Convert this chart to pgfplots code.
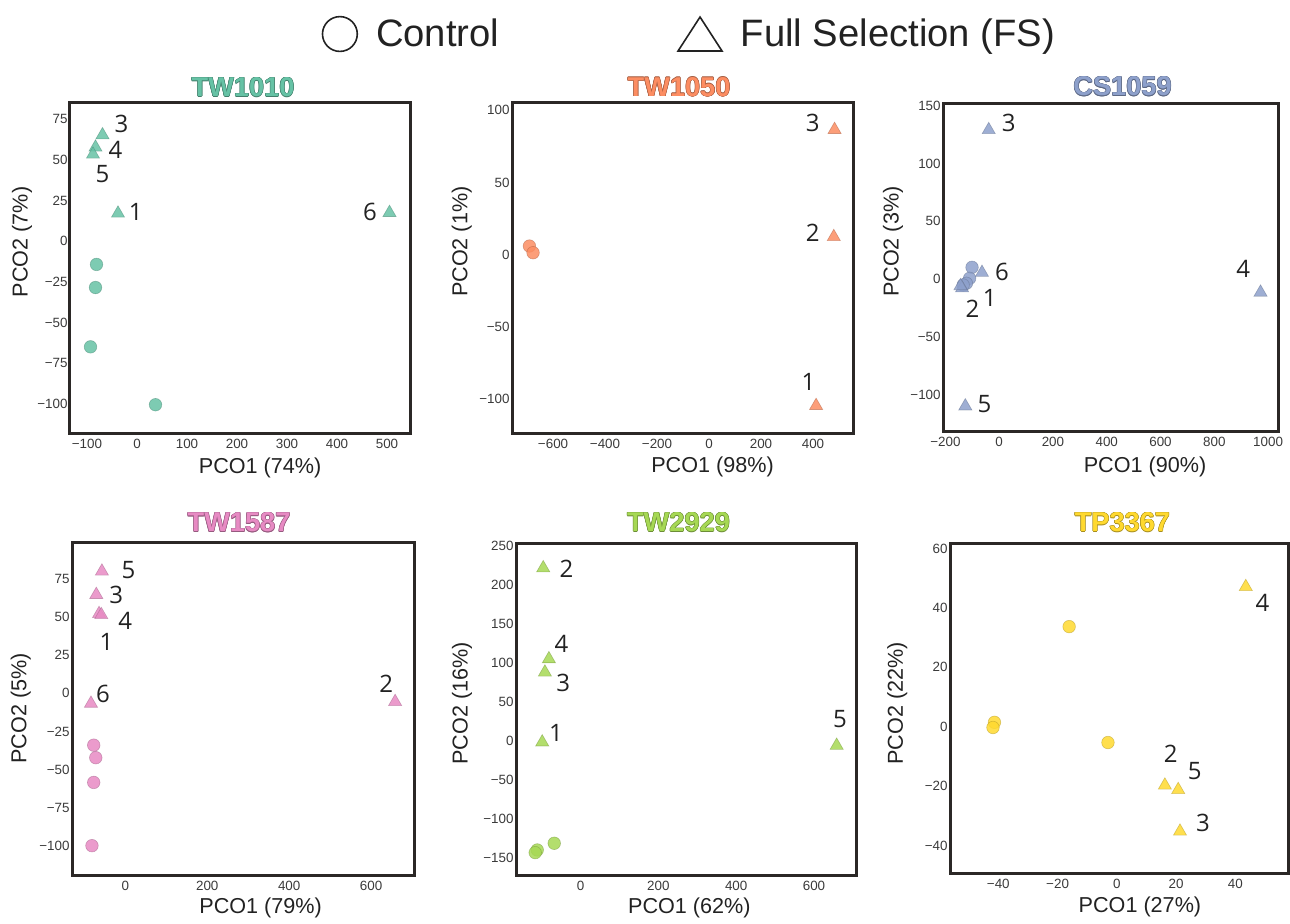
\documentclass[border=0pt]{standalone}
\usepackage{fontspec}
\setmainfont{Liberation Sans}
\newfontfamily\numfont{Open Sans}
\usepackage{pgfplots}
\pgfplotsset{compat=1.18}

\definecolor{cA}{HTML}{66C2A5}
\definecolor{cB}{HTML}{FC8D62}
\definecolor{cC}{HTML}{8DA0CB}
\definecolor{cD}{HTML}{E78AC3}
\definecolor{cE}{HTML}{A6D854}
\definecolor{cF}{HTML}{FFD92F}
\definecolor{frame}{HTML}{2B2826}
\definecolor{ticktext}{HTML}{3A3A3A}
\definecolor{labtext}{HTML}{222222}

% outlined title text: darker copies around, coloured text on top
\newcommand{\oc}[3]{\rlap{\kern#1\raisebox{#2}{#3}}}
\newcommand{\otitle}[2]{{\color{#1!65!black}%
  \oc{0.25pt}{0pt}{#2}\oc{-0.25pt}{0pt}{#2}\oc{0pt}{0.25pt}{#2}\oc{0pt}{-0.25pt}{#2}%
  \oc{0.18pt}{0.18pt}{#2}\oc{-0.18pt}{0.18pt}{#2}\oc{0.18pt}{-0.18pt}{#2}\oc{-0.18pt}{-0.18pt}{#2}}%
  {\color{#1}#2}}

\pgfplotsset{
  pco/.style={
    scale only axis,
    axis line style={frame, line width=1.5pt},
    major tick length=0pt,
    tick label style={font=\fontsize{6.7}{8}\selectfont, color=ticktext, inner sep=1pt},
    xticklabel style={yshift=-2pt},
    label style={font=\fontsize{10.8}{13}\selectfont, color=labtext},
    title style={font=\fontsize{13.6}{15}\selectfont\bfseries, anchor=center, yshift=-6pt},
    clip=false,
  },
  ctl/.style={only marks, mark=*, mark size=3.15pt,
    mark options={fill=#1, fill opacity=0.85, draw=#1!70!black, draw opacity=0.5, line width=0.3pt}},
  fs/.style={only marks, mark=triangle*, mark size=3.8pt,
    mark options={fill=#1, fill opacity=0.85, draw=#1!70!black, draw opacity=0.5, line width=0.3pt}},
}
\newcommand{\lab}[3]{\node[font=\numfont\fontsize{12}{14}\selectfont, color=labtext, inner sep=0pt] at (axis cs:#1,#2) {#3};}

\begin{document}
\begin{tikzpicture}
\path[use as bounding box] (0pt,0pt) rectangle (645pt,461.5pt);

% ---------- TW1010 ----------
\begin{axis}[pco, at={(35pt,245pt)}, anchor=south west, width=170pt, height=165pt,
  xmin=-134, xmax=546, ymin=-118, ymax=85,
  xtick={-100,0,100,200,300,400,500}, xticklabels={−100,0,100,200,300,400,500},
  ytick={-100,-75,-50,-25,0,25,50,75}, yticklabels={−100,−75,−50,−25,0,25,50,75},
  title={\otitle{cA}{TW1010}}, title style={at={(axis description cs:0.509,1.048)}},
  xlabel={PCO1 (74\%)}, xlabel style={at={(axis description cs:0.559,-0.106)}, anchor=center},
  ylabel={PCO2 (7\%)}, ylabel style={at={(axis description cs:-0.141,0.579)}, anchor=center}]
\addplot[ctl=cA] coordinates {(-81,-14.3) (-83,-28.5) (-93,-65) (37,-100.6)};
\addplot[fs=cA] coordinates {(-38,17.1) (-69,65.3) (-83,57.7) (-88,53.4) (505,17.5)};
\lab{-31}{72}{3}\lab{-43}{56}{4}\lab{-69}{41}{5}\lab{-2.5}{18}{1}\lab{466}{18}{6}
\end{axis}

% ---------- TW1050 ----------
\begin{axis}[pco, at={(256pt,245pt)}, anchor=south west, width=170.5pt, height=165.5pt,
  xmin=-758, xmax=554, ymin=-123.5, ymax=105.8,
  xtick={-600,-400,-200,0,200,400}, xticklabels={−600,−400,−200,0,200,400},
  ytick={-100,-50,0,50,100}, yticklabels={−100,−50,0,50,100},
  title={\otitle{cB}{TW1050}}, title style={at={(axis description cs:0.49,1.045)}},
  xlabel={PCO1 (98\%)}, xlabel style={at={(axis description cs:0.588,-0.102)}, anchor=center},
  ylabel={PCO2 (1\%)}, ylabel style={at={(axis description cs:-0.147,0.578)}, anchor=center},
  legend columns=2,
  legend style={at={(axis description cs:0.523,1.2054)}, anchor=center, draw=none, fill=none,
    font=\fontsize{19.1}{23}\selectfont, text=labtext,
    /tikz/every odd column/.append style={column sep=7pt},
    /tikz/every even column/.append style={column sep=87pt}}]
\addlegendimage{legend image code/.code={\draw[line width=0.8pt, color=labtext] (8.7pt,0pt) circle (8.7pt);}}
\addlegendentry{Control}
\addlegendimage{legend image code/.code={\draw[line width=0.8pt, color=labtext, line join=miter] (0pt,-8.5pt) -- (22pt,-8.5pt) -- (11pt,8.5pt) -- cycle;}}
\addlegendentry{Full Selection (FS)}
\addplot[ctl=cB, forget plot] coordinates {(-691,6) (-677,1.4)};
\addplot[fs=cB, forget plot] coordinates {(412,-104.6) (480,12.4) (483,86.6)};
\lab{399}{91}{3}\lab{399}{15}{2}\lab{383}{-88}{1}
\end{axis}

% ---------- CS1059 ----------
\begin{axis}[pco, at={(471.5pt,246pt)}, anchor=south west, width=167.5pt, height=163.5pt,
  xmin=-209, xmax=1037, ymin=-131.5, ymax=151.4,
  xtick={-200,0,200,400,600,800,1000}, xticklabels={−200,0,200,400,600,800,1000},
  ytick={-100,-50,0,50,100,150}, yticklabels={−100,−50,0,50,100,150},
  title={\otitle{cC}{CS1059}}, title style={at={(axis description cs:0.536,1.054)}},
  xlabel={PCO1 (90\%)}, xlabel style={at={(axis description cs:0.603,-0.110)}, anchor=center},
  ylabel={PCO2 (3\%)}, ylabel style={at={(axis description cs:-0.149,0.579)}, anchor=center}]
\addplot[ctl=cC] coordinates {(-101,10.1) (-110,0.6) (-122,-3.7) (-134,-5.2)};
\addplot[fs=cC] coordinates {(-138,-7.8) (-144,-6) (-39,129) (972,-11.6) (-126,-110) (-64,5.5)};
\lab{35}{135}{3}\lab{10}{6}{6}\lab{908}{9}{4}\lab{-55}{-108}{5}\lab{-35}{-16}{1}\lab{-99}{-26}{2}
\end{axis}

% ---------- TW1587 ----------
\begin{axis}[pco, at={(36pt,24pt)}, anchor=south west, width=171.5pt, height=166.5pt,
  xmin=-130, xmax=707, ymin=-119, ymax=99,
  xtick={0,200,400,600}, xticklabels={0,200,400,600},
  ytick={-100,-75,-50,-25,0,25,50,75}, yticklabels={−100,−75,−50,−25,0,25,50,75},
  title={\otitle{cD}{TW1587}}, title style={at={(axis description cs:0.487,1.059)}},
  xlabel={PCO1 (79\%)}, xlabel style={at={(axis description cs:0.550,-0.100)}, anchor=center},
  ylabel={PCO2 (5\%)}, ylabel style={at={(axis description cs:-0.149,0.5)}, anchor=center}]
\addplot[ctl=cD] coordinates {(-77,-34) (-72,-42.2) (-77,-58.4) (-81.3,-99.8)};
\addplot[fs=cD] coordinates {(-64,52) (658.5,-5.6) (-70.7,64.5) (-58.5,51.3) (-57,79.8) (-83.7,-6.7)};
\lab{8}{80.4}{5}\lab{-22}{64.1}{3}\lab{0}{47.3}{4}\lab{-46}{33.6}{1}\lab{-54.5}{-0.2}{6}\lab{636.6}{6.4}{2}
\end{axis}

% ---------- TW2929 ----------
\begin{axis}[pco, at={(258pt,24pt)}, anchor=south west, width=170pt, height=165.5pt,
  xmin=-166, xmax=708, ymin=-171.4, ymax=253,
  xtick={0,200,400,600}, xticklabels={0,200,400,600},
  ytick={-150,-100,-50,0,50,100,150,200,250}, yticklabels={−150,−100,−50,0,50,100,150,200,250},
  title={\otitle{cE}{TW2929}}, title style={at={(axis description cs:0.478,1.066)}},
  xlabel={PCO1 (62\%)}, xlabel style={at={(axis description cs:0.510,-0.0997)}, anchor=center},
  ylabel={PCO2 (16\%)}, ylabel style={at={(axis description cs:-0.159,0.519)}, anchor=center}]
\addplot[ctl=cE] coordinates {(-67.7,-130.7) (-111.4,-139.3) (-116.6,-142.7)};
\addplot[fs=cE] coordinates {(-98.6,-1.1) (-96,222.2) (-91.7,88.5) (-81.4,105.6) (658.3,-5.4)};
\lab{-36}{220.9}{2}\lab{-48.9}{125}{4}\lab{-44.6}{75.5}{3}\lab{-63.4}{10.4}{1}\lab{666.9}{28.4}{5}
\end{axis}

% ---------- TP3367 ----------
\begin{axis}[pco, at={(475pt,25pt)}, anchor=south west, width=169pt, height=164.5pt,
  xmin=-56.3, xmax=57.75, ymin=-49.2, ymax=61.5,
  xtick={-40,-20,0,20,40}, xticklabels={−40,−20,0,20,40},
  ytick={-40,-20,0,20,40,60}, yticklabels={−40,−20,0,20,40,60},
  title={\otitle{cF}{TP3367}}, title style={at={(axis description cs:0.51,1.066)}},
  xlabel={PCO1 (27\%)}, xlabel style={at={(axis description cs:0.562,-0.102)}, anchor=center},
  ylabel={PCO2 (22\%)}, ylabel style={at={(axis description cs:-0.156,0.516)}, anchor=center}]
\addplot[ctl=cF] coordinates {(-16.1,33.7) (-41.3,1.5) (-41.8,-0.25) (-3,-5.3)};
\addplot[fs=cF] coordinates {(16.2,-19.7) (21.3,-35.2) (43.5,47.1) (20.7,-21.2)};
\lab{49.1}{41.7}{4}\lab{18.2}{-9}{2}\lab{26.3}{-15}{5}\lab{29.1}{-32.5}{3}
\end{axis}
\end{tikzpicture}
\end{document}
